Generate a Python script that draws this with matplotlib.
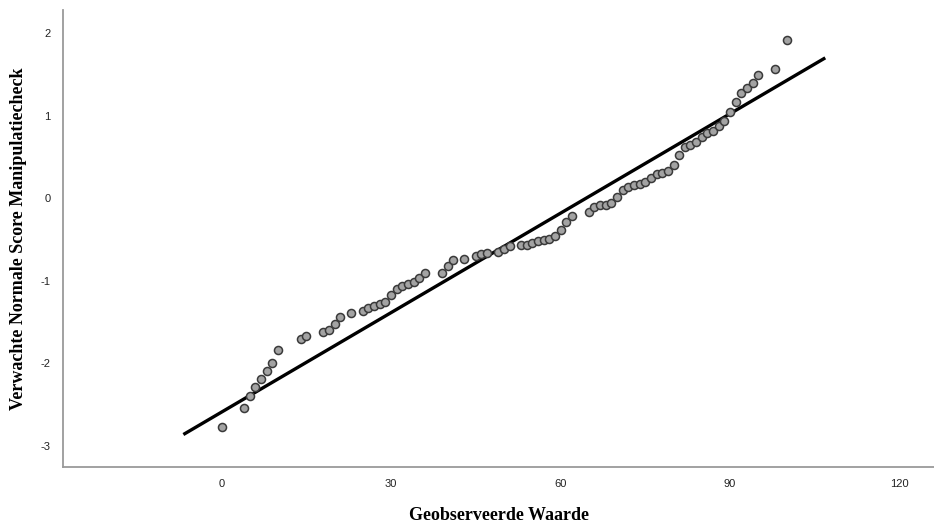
import numpy as np
import matplotlib.pyplot as plt

plt.rcParams['axes.unicode_minus'] = False

# observed values (x) and expected normal scores (y)
observed = [0, 4, 5, 6, 7, 8, 9, 10, 14, 15, 18, 19, 20, 21, 23, 25, 26, 27, 28, 29,
            30, 31, 32, 33, 34, 35, 36, 39, 40, 41, 43, 45, 46, 47, 49, 50, 51, 53, 54, 55,
            56, 57, 58, 59, 60, 61, 62, 65, 66, 67, 68, 69, 70, 71, 72, 73, 74, 75, 76, 77,
            78, 79, 80, 81, 82, 83, 84, 85, 86, 87, 88, 89, 90, 91, 92, 93, 94, 95, 98, 100]
expected = [-2.77, -2.54, -2.39, -2.28, -2.19, -2.09, -2.00, -1.84, -1.70, -1.67,
            -1.62, -1.59, -1.52, -1.44, -1.39, -1.37, -1.33, -1.30, -1.28, -1.26,
            -1.17, -1.10, -1.06, -1.04, -1.01, -0.96, -0.91, -0.90, -0.82, -0.75,
            -0.73, -0.70, -0.68, -0.66, -0.65, -0.62, -0.58, -0.56, -0.56, -0.54,
            -0.52, -0.50, -0.49, -0.46, -0.38, -0.29, -0.22, -0.17, -0.11, -0.08,
            -0.08, -0.06, 0.01, 0.10, 0.14, 0.16, 0.17, 0.20, 0.25, 0.29,
            0.31, 0.33, 0.40, 0.53, 0.62, 0.65, 0.68, 0.74, 0.79, 0.82,
            0.87, 0.94, 1.05, 1.17, 1.28, 1.34, 1.40, 1.49, 1.57, 1.92]

# reference line: expected normal, y = (x - mean) / sd
line_mean = 64.5
line_sd = 24.9
line_range = [-6.5, 106.6]

xticks = [0, 30, 60, 90, 120]
yticks = [-3, -2, -1, 0, 1, 2]

fig = plt.figure(figsize=(9.34, 5.29), dpi=100)
ax = fig.add_axes([0.0675, 0.118, 0.9325, 0.863])

lx = np.array(line_range)
ax.plot(lx, (lx - line_mean) / line_sd, color='black', lw=2.4, zorder=2)
ax.plot(observed, expected, 'o', ms=5.8, mfc='#a3a3a3', mec='#3a3a3a', mew=1.1, zorder=3)

ax.set_xlim(-28.05, 126.1)
ax.set_ylim(-3.25, 2.28)
ax.set_xticks(xticks)
ax.set_yticks(yticks)
ax.tick_params(length=0, labelsize=8, labelcolor='#222222', pad=9)
for lab in ax.get_xticklabels() + ax.get_yticklabels():
    lab.set_family('Liberation Sans')

for s in ['top', 'right']:
    ax.spines[s].set_visible(False)
for s in ['left', 'bottom']:
    ax.spines[s].set_color('#9a9a9a')
    ax.spines[s].set_linewidth(1.3)

ax.set_xlabel('Geobserveerde Waarde', family='Liberation Serif', weight='bold',
              fontsize=13, labelpad=13)
fig.text(19 / 934, 0.118 + 0.863 / 2, 'Verwachte Normale Score Manipulatiecheck',
         family='Liberation Serif', weight='bold', fontsize=13,
         rotation=90, ha='center', va='center')

fig.savefig('out.png', dpi=100)
